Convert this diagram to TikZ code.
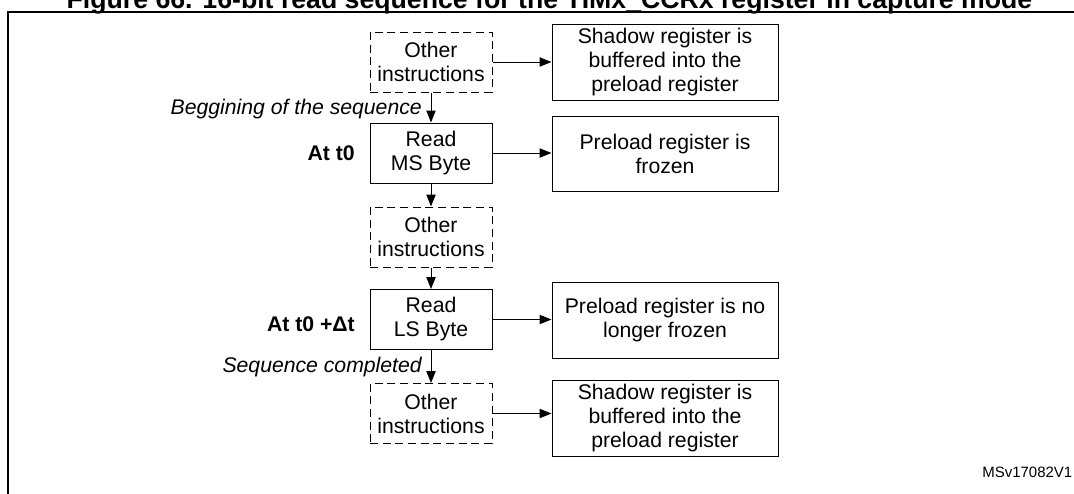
\documentclass[tikz,border=0pt]{standalone}
\usepackage{fontspec}
\setmainfont{Liberation Sans}
\usepackage{tikz}
\usetikzlibrary{
  arrows.meta,
  positioning
}

\begin{document}
\begin{tikzpicture}[
  x=0.75pt, y=-0.75pt,
  instr/.style={rectangle, draw, dash pattern=on 6pt off 3.5pt, line width=0.75pt, minimum width=91.5pt, minimum height=45pt, inner sep=0pt, align=center, font=\fontsize{15.9}{18}\selectfont},
  readbox/.style={rectangle, draw, line width=0.75pt, minimum width=91.5pt, minimum height=45pt, inner sep=0pt, align=center, font=\fontsize{15.9}{18}\selectfont},
  regbox/.style={rectangle, draw, line width=0.75pt, minimum width=169.5pt, minimum height=57pt, inner sep=0pt, align=center, font=\fontsize{15.9}{18}\selectfont},
  flow/.style={-{Triangle[length=9pt,width=7pt]}, line width=0.75pt},
  when/.style={inner sep=0pt, anchor=east, font=\fontsize{15.9}{18}\selectfont\bfseries},
  phase/.style={inner sep=0pt, anchor=base east, font=\fontsize{15.9}{18}\selectfont\itshape}
]
  \clip (0,0) rectangle (1074,493);

  % title and frame
  \node[inner sep=0pt, anchor=base, font=\fontsize{20}{24}\selectfont\bfseries] (title) at (549.5,8)
    {Figure 66. 16-bit read sequence for the TIMx\_CCRx register in capture mode};
  \draw[line width=1.5pt] (8,12) rectangle (1090,510);

  % left column
  \node[instr] (other1) at (431,62) {Other\\instructions};
  \node[readbox] (readms) at (431,153) {Read\\MS Byte};
  \node[instr] (other2) at (431,237) {Other\\instructions};
  \node[readbox] (readls) at (431,319.5) {Read\\LS Byte};
  \node[instr] (other3) at (431,413.5) {Other\\instructions};

  % right column
  \node[regbox] (shadow1) at (665,62) {Shadow register is\\buffered into the\\preload register};
  \node[regbox, minimum height=56.25pt] (frozen) at (665,153.5) {Preload register is\\frozen};
  \node[regbox] (unfrozen) at (665,320) {Preload register is no\\longer frozen};
  \node[regbox] (shadow2) at (665,418) {Shadow register is\\buffered into the\\preload register};

  \foreach \a/\b in {other1/readms,readms/other2,other2/readls,readls/other3} {
    \draw[flow] (\a.south) -- (\b.north);
  }
  \foreach \a/\b in {other1/shadow1,readms/frozen,readls/unfrozen,other3/shadow2} {
    \draw[flow] (\a.east) -- (\a.east -| \b.west);
  }

  % labels
  \node[when] (att0) at (355,153) {At t0};
  \node[when] (att0dt) at (355,324) {At t0 +Δt};
  \node[phase] (begin) at (422,114) {Beggining of the sequence};
  \node[phase] (done) at (422,372) {Sequence completed};
  \node[inner sep=0pt, anchor=base west, font=\fontsize{11.25}{13}\selectfont] (ref) at (982,477) {MSv17082V1};
\end{tikzpicture}
\end{document}
